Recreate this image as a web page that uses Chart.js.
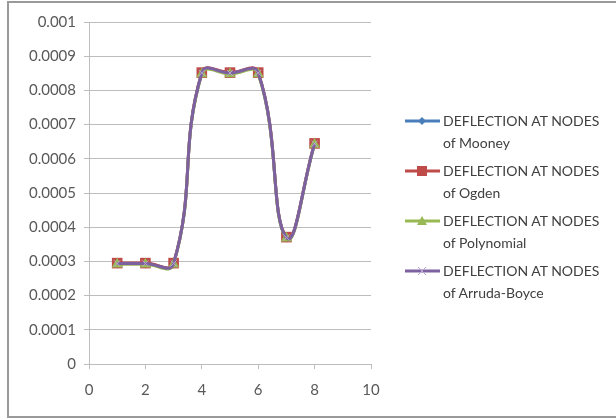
<!DOCTYPE html>
<html>
<head>
<meta charset="utf-8">
<script src="https://cdn.jsdelivr.net/npm/chart.js@4.4.1/dist/chart.umd.min.js"></script>
<style>
  html, body { margin: 0; padding: 0; background: #fff; }
  #wrap { position: relative; width: 616px; height: 420px; overflow: hidden; }
  #frame { position: absolute; left: 7px; top: 1px; width: 620px; height: 417px; border: 2px solid #9a9a9a; box-sizing: border-box; }
  #c { position: absolute; left: 0; top: 0; }
  #legend { position: absolute; left: 405px; top: 110px; font-family: Lato, "Open Sans", sans-serif; font-size: 14px; color: #404040; line-height: 22px; }
  .item { display: flex; align-items: flex-start; margin-bottom: 6px; }
  .item svg { flex: none; margin-top: 5px; margin-right: 3px; }
</style>
</head>
<body>
<div id="wrap">
  <div id="frame"></div>
  <canvas id="c" width="616" height="420"></canvas>
  <div id="legend"></div>
</div>
<script>
// Node numbers and deflection at each node for the four material models
const nodes = [1, 2, 3, 4, 5, 6, 7, 8];
const mooney      = [0.000294, 0.000294, 0.000294, 0.000851, 0.000851, 0.000851, 0.00037, 0.000644];
const ogden       = [0.000295, 0.000295, 0.000295, 0.000852, 0.000852, 0.000852, 0.000371, 0.000645];
const polynomial  = [0.000292, 0.000292, 0.000292, 0.000848, 0.000848, 0.000848, 0.000368, 0.000642];
const arrudaBoyce = [0.000294, 0.000294, 0.000294, 0.000851, 0.000851, 0.000851, 0.00037, 0.000644];
const seriesNames = [
  ["DEFLECTION AT NODES", "of Mooney"],
  ["DEFLECTION AT NODES", "of Ogden"],
  ["DEFLECTION AT NODES", "of Polynomial"],
  ["DEFLECTION AT NODES", "of Arruda-Boyce"]
];
const xTicks = [0, 2, 4, 6, 8, 10];
const yTicks = [0, 0.0001, 0.0002, 0.0003, 0.0004, 0.0005, 0.0006, 0.0007, 0.0008, 0.0009, 0.001];

const colors = ["#4a7ebb", "#be4b48", "#98b954", "#7d60a0"];
const markers = ["rectRot", "rect", "triangle", "crossRot"];
const radii = [5, 7.5, 6.5, 4.5];
const values = [mooney, ogden, polynomial, arrudaBoyce];

// later series are painted over earlier ones
const datasets = values.map((vals, i) => ({
  label: seriesNames[i].join(" "),
  data: nodes.map((n, k) => ({ x: n, y: vals[k] })),
  order: values.length - 1 - i,
  borderColor: colors[i],
  backgroundColor: colors[i],
  borderWidth: 3,
  pointStyle: markers[i],
  pointRadius: radii[i],
  pointBorderWidth: i === 3 ? 1 : 0,
  pointBorderColor: i === 3 ? "#b9a6d2" : colors[i],
  tension: 0.45,
  fill: false
}));

const tickFont = { family: "Lato, 'Open Sans', sans-serif", size: 15 };

new Chart(document.getElementById("c"), {
  type: "scatter",
  data: { datasets },
  options: {
    responsive: false,
    animation: false,
    showLine: true,
    layout: { padding: { left: 0, top: 22, right: 245, bottom: 0 } },
    plugins: { legend: { display: false }, tooltip: { enabled: false } },
    scales: {
      x: {
        type: "linear",
        min: 0, max: 10,
        afterBuildTicks: s => { s.ticks = xTicks.map(v => ({ value: v })); },
        ticks: { font: tickFont, color: "#595959", padding: 12 },
        grid: { display: true, drawOnChartArea: false, color: "#bdbdbd", tickLength: 5, tickColor: "#bdbdbd" },
        border: { color: "#bdbdbd", width: 1 },
        afterFit: s => { s.height = 56; }
      },
      y: {
        type: "linear",
        min: 0, max: 0.001,
        afterBuildTicks: s => { s.ticks = yTicks.map(v => ({ value: v })); },
        ticks: {
          font: tickFont, color: "#595959", padding: 8,
          callback: v => String(+v.toFixed(4))
        },
        grid: { color: "#bdbdbd", lineWidth: 1, tickLength: 5, tickColor: "#bdbdbd" },
        border: { color: "#bdbdbd", width: 1 },
        afterFit: s => { s.width = 89; }
      }
    }
  }
});

// Legend built as HTML, each entry a line sample with its marker
const legend = document.getElementById("legend");
const markerSvg = i => {
  const c = colors[i];
  let m = "";
  if (i === 0) m = `<polygon points="17,2 21,6 17,10 13,6" fill="${c}"/>`;
  if (i === 1) m = `<rect x="12" y="1" width="10" height="10" fill="${c}"/>`;
  if (i === 2) m = `<polygon points="17,1 22,10 12,10" fill="${c}"/>`;
  if (i === 3) m = `<path d="M13,2 L21,10 M21,2 L13,10" stroke="#b9a6d2" stroke-width="1"/>`;
  return `<svg width="35" height="12"><line x1="0" y1="6" x2="35" y2="6" stroke="${c}" stroke-width="3"/>${m}</svg>`;
};
seriesNames.forEach((lines, i) => {
  const d = document.createElement("div");
  d.className = "item";
  d.innerHTML = markerSvg(i) + `<div>${lines[0]}<br>${lines[1]}</div>`;
  legend.appendChild(d);
});
</script>
</body>
</html>
